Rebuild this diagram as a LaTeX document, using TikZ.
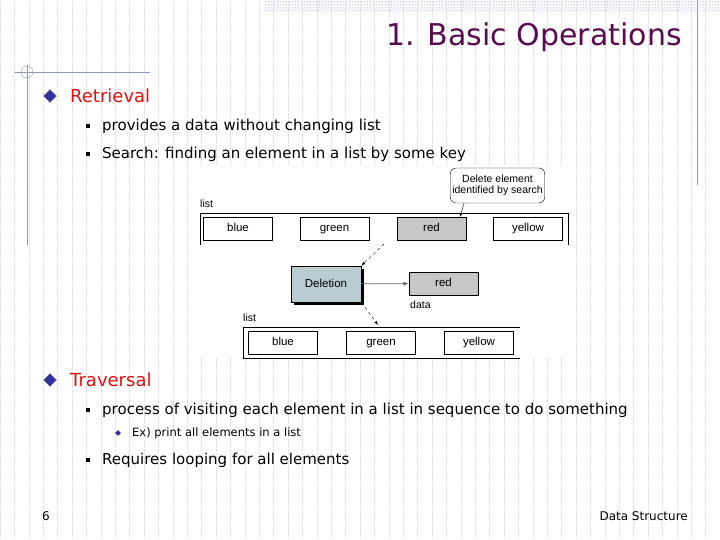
\documentclass[tikz,border=0pt]{standalone}
\usepackage{fontspec}
\setmainfont{DejaVu Sans}
\newfontfamily\diagfont{Liberation Sans}
\usetikzlibrary{patterns,shadows}
\definecolor{titlepurple}{HTML}{5A0A50}
\definecolor{headred}{HTML}{E01010}
\definecolor{bulletblue}{HTML}{3030A0}
\definecolor{framegray}{HTML}{8A9AB8}
\definecolor{delfill}{HTML}{B8CCD2}
\begin{document}
\begin{tikzpicture}
[x=1pt,y=-1pt,
 elem/.style={draw,thick,minimum width=69pt,minimum height=23pt,inner sep=0pt,text height=8pt,text depth=2pt,font=\diagfont\fontsize{11.5}{11.5}\selectfont,fill=white},
 picked/.style={elem,fill=black!22},
 tag/.style={font=\diagfont\fontsize{10.5}{10.5}\selectfont,inner sep=0pt},
 head/.style={anchor=west,text=headred,font=\fontsize{18}{18}\selectfont,inner sep=0pt},
 item/.style={anchor=west,font=\fontsize{15}{15}\selectfont,inner sep=0pt},
 sqbullet/.style={fill=black,minimum size=4pt,inner sep=0pt}]
\useasboundingbox (0,0) rectangle (720,540);
\fill[white] (0,0) rectangle (720,540);
% grid
\draw[black!12,densely dotted] (0,0) grid[step=14.4] (720,540);
\fill[pattern=crosshatch dots,pattern color=blue!25] (265,0) rectangle (720,12);
\draw[framegray] (697,0) -- (697,185);
\draw[framegray] (27,65) -- (27,245);
\draw[framegray] (15,72) -- (150,72);
\draw[framegray] (27,72) circle (6);
% title
\node[anchor=south east,text=titlepurple,font=\fontsize{30}{30}\selectfont,inner sep=0pt] (title) at (682,52) {1. Basic Operations};
% retrieval
\node[draw=black!60,fill=bulletblue,minimum size=9pt,inner sep=0pt,rotate=45] (d1) at (50,96) {};
\node[head] (retr) at (70,96) {Retrieval};
\node[sqbullet] (b1) at (88,126) {};
\node[item] (t1) at (102,126) {provides a data without changing list};
\node[sqbullet] (b2) at (88,154) {};
\node[item] (t2) at (102,154) {Search: finding an element in a list by some key};
% diagram
\fill[white] (197,165) rectangle (570,358);
\node[tag,anchor=west] (list1) at (200,204) {list};
\draw[thick] (200,245) -- (200,213) -- (568,213) -- (568,245);
\node[elem] (blue1) at (238,229) {blue};
\node[elem] (green1) at (334.5,229) {green};
\node[picked] (red1) at (431.5,229) {red};
\node[elem] (yellow1) at (528,229) {yellow};
\node[draw,rounded corners=6pt,minimum width=91pt,minimum height=35pt,align=center,tag,inner sep=2pt,fill=white] (note) at (497.5,185.5) {Delete element\\identified by search};
\draw[-latex] (note.south west) ++(14,0) -- (460,217);
\node[elem,fill=delfill,minimum width=70pt,minimum height=36pt,drop shadow={shadow xshift=3pt,shadow yshift=-3pt,fill=black,opacity=1}] (del) at (326,284) {Deletion};
\coordinate (from1) at (384,244);
\draw[dashed,-latex] (from1) -- (del.north east);
\node[picked] (red2) at (443.5,283.5) {red};
\draw[black!60,thick,-latex] (del) -- (red2);
\node[tag,anchor=west] (data) at (410,305) {data};
\node[tag,anchor=west] (list2) at (243,318) {list};
\coordinate (to2) at (378,325);
\draw[dashed,-latex] (del.south east) -- (to2);
\draw[thick] (520,327) -- (243,327) -- (243,358) -- (520,358);
\node[elem] (blue2) at (283,342.5) {blue};
\node[elem] (green2) at (381,342.5) {green};
\node[elem] (yellow2) at (479,342.5) {yellow};
% traversal
\node[draw=black!60,fill=bulletblue,minimum size=9pt,inner sep=0pt,rotate=45] (d2) at (50,380) {};
\node[head] (trav) at (70,380) {Traversal};
\node[sqbullet] (b3) at (88,410) {};
\node[item] (t3) at (102,410) {process of visiting each element in a list in sequence to do something};
\node[fill=bulletblue,minimum size=4pt,inner sep=0pt,rotate=45] (b4) at (118,433) {};
\node[anchor=west,font=\fontsize{11.5}{11.5}\selectfont,inner sep=0pt] (t4) at (132,433) {Ex) print all elements in a list};
\node[sqbullet] (b5) at (88,460) {};
\node[item] (t5) at (102,460) {Requires looping for all elements};
% footer
\node[font=\fontsize{12}{12}\selectfont,inner sep=0pt] (pg) at (46,516) {6};
\node[anchor=east,font=\fontsize{12}{12}\selectfont,inner sep=0pt] (foot) at (688,516) {Data Structure};
\end{tikzpicture}
\end{document}
